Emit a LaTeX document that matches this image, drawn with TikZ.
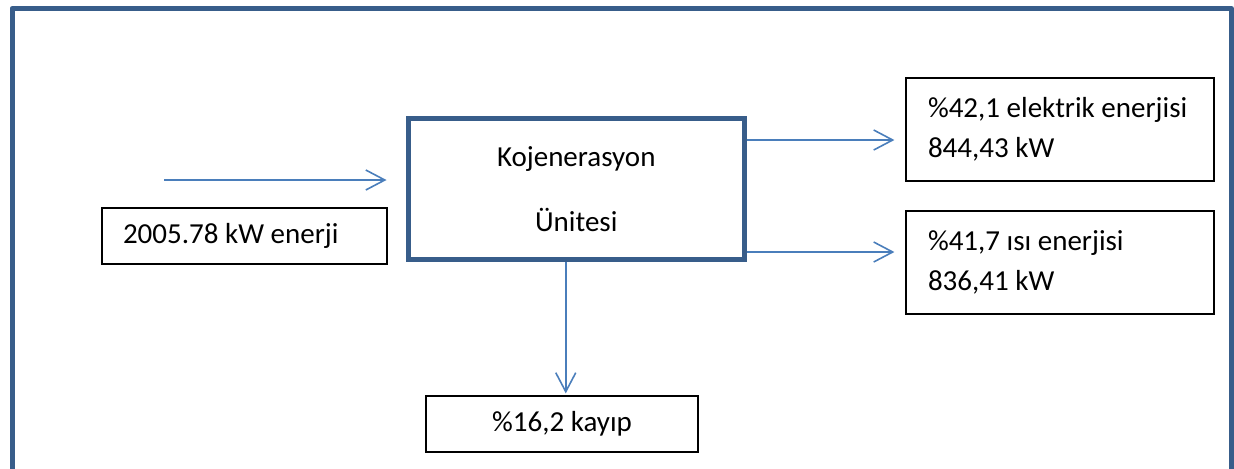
\documentclass[tikz,border=0pt]{standalone}
\usepackage{fontspec}
\setmainfont{Carlito}
\usepackage{tikz}
\usetikzlibrary{arrows.meta}
\definecolor{framecol}{HTML}{385D8A}
\definecolor{flowcol}{HTML}{4A7EBB}

\begin{document}
\begin{tikzpicture}[x=0.5pt,y=-0.5pt]
% Box styles
\tikzset{
    txt/.style={font=\fontsize{14.5}{20}\selectfont},
    thinbox/.style={txt,draw=black,line width=0.6pt,rectangle,minimum height=28pt},
    outbox/.style={thinbox,align=flush left,inner xsep=11pt,text width=132pt,minimum height=51.5pt},
    flow/.style={draw=flowcol,line width=0.8pt,-{Straight Barb[length=9.5pt,width=10pt]}}
}
\useasboundingbox (0,0) rectangle (1234,468);
% Frame
\draw[framecol,line width=2.5pt,line join=round] (12,490) |- (1231.5,8.5) -- (1231.5,490);
% Blocks
\node[draw=framecol,line width=2.5pt,minimum width=167.75pt,minimum height=70.5pt,
      align=center,font=\fontsize{14.5}{32.5}\selectfont] (main) at (576.25,189){Kojenerasyon\\Ünitesi};
\node[thinbox,align=flush left,inner xsep=10.5pt,text width=121.5pt] (src) at (244.5,236){2005.78 kW enerji};
\node[outbox] (elec) at (1060,129.4){\%42,1 elektrik enerjisi\\844,43 kW};
\node[outbox] (heat) at (1060,262.4){\%41,7 ısı enerjisi\\836,41 kW};
\node[thinbox,minimum width=136pt] (loss) at (562,424){\%16,2 kayıp};
% Flows
\coordinate (in) at (164,180);
\draw[flow] (in) -- ([xshift=-9.75pt]in -| main.west);
\draw[flow] ([yshift=24.5pt]main.east) -- ([yshift=24.5pt,xshift=-5.5pt]main.east -| elec.west);
\draw[flow] ([yshift=-31.5pt]main.east) -- ([yshift=-31.5pt,xshift=-5.5pt]main.east -| heat.west);
\draw[flow] ([xshift=-5.25pt]main.south) -- ([xshift=-5.25pt,yshift=1pt]main.south |- loss.north);
\end{tikzpicture}
\end{document}
